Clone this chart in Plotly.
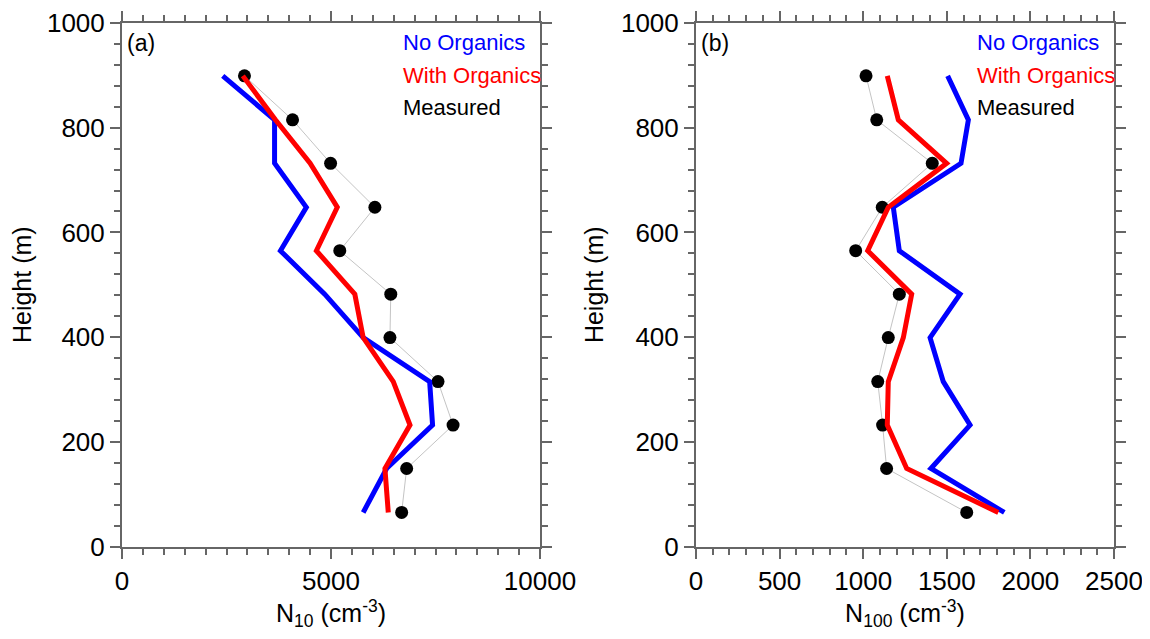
import plotly.graph_objects as go

height = [65, 149, 232, 315, 399, 482, 565, 648, 732, 815, 899]

# Panel (a): N10 (cm-3)
n10_no_org = [5770, 6330, 7430, 7360, 5770, 4850, 3790, 4410, 3650, 3650, 2410]
n10_with_org = [6370, 6290, 6890, 6490, 5770, 5570, 4650, 5150, 4500, 3670, 2890]
n10_measured = [6690, 6810, 7920, 7560, 6410, 6430, 5210, 6050, 4990, 4080, 2930]

# Panel (b): N100 (cm-3)
n100_no_org = [1844, 1405, 1639, 1479, 1400, 1579, 1216, 1180, 1585, 1629, 1505]
n100_with_org = [1808, 1260, 1144, 1150, 1240, 1290, 1027, 1150, 1499, 1210, 1144]
n100_measured = [1619, 1140, 1116, 1087, 1150, 1216, 955, 1114, 1413, 1081, 1017]

BLUE = "#0000ff"
RED = "#ff0000"
FONT = "Liberation Sans, Arial, sans-serif"
AXC = "#666666"
OFF = 8  # page body margin

fig = go.Figure()

def add_panel(xa, ya, no_org, with_org, meas):
    fig.add_trace(go.Scatter(x=meas, y=height, mode="lines+markers",
                             line=dict(color="#c4c4c4", width=1),
                             marker=dict(color="black", size=13),
                             xaxis=xa, yaxis=ya, showlegend=False))
    fig.add_trace(go.Scatter(x=no_org, y=height, mode="lines",
                             line=dict(color=BLUE, width=5),
                             xaxis=xa, yaxis=ya, showlegend=False))
    fig.add_trace(go.Scatter(x=with_org, y=height, mode="lines",
                             line=dict(color=RED, width=5),
                             xaxis=xa, yaxis=ya, showlegend=False))

add_panel("x", "y", n10_no_org, n10_with_org, n10_measured)
add_panel("x2", "y2", n100_no_org, n100_with_org, n100_measured)

W, H = 1150, 639
ydom = [1 - (546.5 - OFF) / H, 1 - (23 - OFF) / H]
common_ax = dict(showline=True, linecolor=AXC, linewidth=2, mirror="allticks",
                 ticks="outside", ticklen=10, tickwidth=1.5, tickcolor=AXC,
                 showgrid=False, zeroline=False, automargin=False,
                 tickformat="d",
                 tickfont=dict(family=FONT, size=26, color="black"),
                 title_font=dict(family=FONT, size=25, color="black"))

fig.update_layout(
    width=W, height=H,
    margin=dict(l=0, r=0, t=0, b=0),
    paper_bgcolor="white", plot_bgcolor="white",
    xaxis=dict(domain=[(122 - OFF) / W, (540 - OFF) / W], range=[0, 10000], dtick=5000,
               minor=dict(dtick=500, ticks="outside", ticklen=6, tickcolor=AXC, showgrid=False),
               title=dict(text="N<sub>10</sub> (cm<sup>-3</sup>)", standoff=8),
               anchor="y", **common_ax),
    yaxis=dict(domain=ydom, range=[0, 1000], dtick=200,
               minor=dict(dtick=40, ticks="outside", ticklen=6, tickcolor=AXC, showgrid=False),
               title=dict(text="Height (m)", standoff=10),
               anchor="x", **common_ax),
    xaxis2=dict(domain=[(696 - OFF) / W, (1114 - OFF) / W], range=[0, 2500], dtick=500,
                minor=dict(dtick=100, ticks="outside", ticklen=6, tickcolor=AXC, showgrid=False),
                title=dict(text="N<sub>100</sub> (cm<sup>-3</sup>)", standoff=8),
                anchor="y2", **common_ax),
    yaxis2=dict(domain=ydom, range=[0, 1000], dtick=200,
                minor=dict(dtick=40, ticks="outside", ticklen=6, tickcolor=AXC, showgrid=False),
                title=dict(text="Height (m)", standoff=10),
                anchor="x2", **common_ax),
)

def add_texts(xd, yd, label):
    fig.add_annotation(text=label, xref=xd, yref=yd, x=0.008, y=0.962,
                       xanchor="left", yanchor="middle", showarrow=False,
                       font=dict(family=FONT, size=23, color="black"))
    for txt, col, yy in [("No Organics", BLUE, 0.962),
                         ("With Organics", RED, 0.899),
                         ("Measured", "black", 0.838)]:
        fig.add_annotation(text=txt, xref=xd, yref=yd, x=0.667, y=yy,
                           xanchor="left", yanchor="middle", showarrow=False,
                           font=dict(family=FONT, size=22, color=col))

add_texts("x domain", "y domain", "(a)")
add_texts("x2 domain", "y2 domain", "(b)")

fig.write_html("out.html")
